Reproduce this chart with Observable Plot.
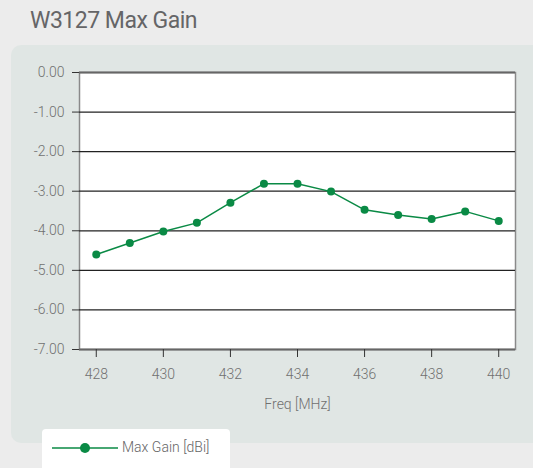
<!DOCTYPE html>
<html><head><meta charset="utf-8">
<script src="https://cdn.jsdelivr.net/npm/d3@7"></script>
<script src="https://cdn.jsdelivr.net/npm/@observablehq/plot@0.6"></script>
<style>
html,body{margin:0;padding:0;background:#ececec;width:533px;height:468px;overflow:hidden;font-family:Roboto,"Liberation Sans",sans-serif;}
#title{position:absolute;left:30px;top:7px;font-size:23px;color:#656567;font-weight:400;letter-spacing:-0.5px;}
#panel{position:absolute;left:11px;top:45px;width:540px;height:398px;background:#e0e6e4;border-radius:10px;}
#chart{position:absolute;left:0;top:45px;}
#legend{position:absolute;left:42px;top:429px;width:188px;height:45px;background:#fff;border-radius:4px 4px 0 0;}
#legend span{position:absolute;left:80px;top:10px;font-size:14px;font-weight:300;color:#666;}
#legend svg{position:absolute;left:10px;top:12px;}
</style></head>
<body>
<div id="title">W3127 Max Gain</div>
<div id="panel"></div>
<div id="chart"></div>
<div id="legend"><svg width="68" height="14"><line x1="0" x2="66" y1="7" y2="7" stroke="#0a8a45" stroke-width="1.5"/><circle cx="33" cy="7" r="5" fill="#0a8a45"/></svg><span>Max Gain [dBi]</span></div>
<script>
const freq = [428,429,430,431,432,433,434,435,436,437,438,439,440];
const gain = [-4.60,-4.31,-4.02,-3.80,-3.29,-2.81,-2.81,-3.01,-3.47,-3.60,-3.70,-3.51,-3.75];
const xTicks = [428,430,432,434,436,438,440];
const yTicks = [0,-1,-2,-3,-4,-5,-6,-7];
const seriesName = "Max Gain [dBi]";
const xLabel = "Freq [MHz]";

const data = freq.map((f,i)=>({freq:f, gain:gain[i]}));
const green = "#0a8a45";
const chart = Plot.plot({
  width: 533, height: 400,
  marginLeft: 79, marginRight: 18, marginTop: 27, marginBottom: 96,
  style: {background:"transparent", fontFamily:"Roboto, sans-serif", fontSize:"14px", color:"#707070", fontWeight:300},
  x: {domain:[427.5,440.5], ticks: xTicks, tickSize: 8, tickPadding: 12, label: null, tickFormat: d=>String(d)},
  y: {domain:[-7,0], ticks: yTicks, tickSize: 7, tickPadding: 8, label: null, tickFormat: d=>d.toFixed(2)},
  marks: [
    Plot.frame({fill:"white", stroke:"#8a8a8a", strokeWidth:1.5}),
    Plot.ruleY(yTicks.filter(d=>d<0 && d>-7), {stroke:"#222", strokeWidth:1.2}),
    Plot.ruleY([0], {stroke:"#666", strokeWidth:2}),
    Plot.ruleY([-7], {stroke:"#666", strokeWidth:2}),
    Plot.axisX({ticks:xTicks, tickSize:8, tickPadding:12, stroke:"#333", tickFormat:d=>String(d)}),
    Plot.axisY({ticks:yTicks, tickSize:7, tickPadding:8, stroke:"#333", tickFormat:d=>d.toFixed(2)}),
    Plot.line(data, {x:"freq", y:"gain", stroke:green, strokeWidth:1.5}),
    Plot.dot(data, {x:"freq", y:"gain", fill:green, r:4}),
    Plot.text([xLabel], {frameAnchor:"bottom", dy:59, text:d=>d, fill:"#707070", fontSize:14})
  ]
});
document.getElementById("chart").appendChild(chart);
</script>
</body></html>
